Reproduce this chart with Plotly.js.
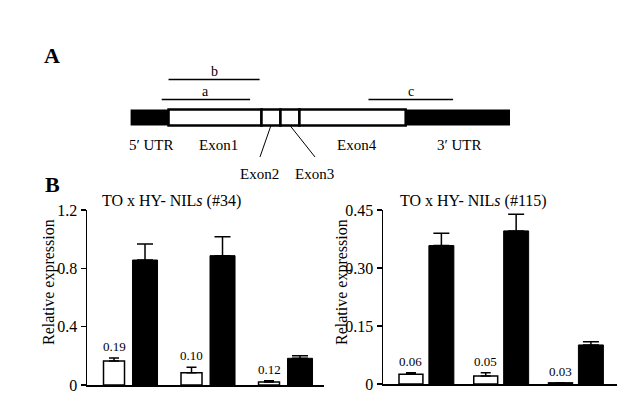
<!DOCTYPE html>
<html>
<head>
<meta charset="utf-8">
<script src="https://cdn.plot.ly/plotly-3.0.1.min.js"></script>
<style>html,body{margin:0;padding:0;background:#fff;}#chart{width:640px;height:393px;}</style>
</head>
<body>
<div id="chart"></div>
<script>
// ---------- Panel A: gene structure (diagram units, 0..1000 along the transcript) ----------
const regionNames  = ['5′ UTR', 'Exon1', 'Exon2', 'Exon3', 'Exon4', '3′ UTR'];
const regionStart  = [0, 100, 345, 395, 445, 725];
const regionEnd    = [100, 345, 395, 445, 725, 1000];
const regionCoding = [false, true, true, true, true, false];
const fragmentNames = ['a', 'b', 'c'];
const fragmentStart = [82, 100, 627];
const fragmentEnd   = [315, 340, 850];
const fragmentRow   = [1, 2, 1];

// ---------- Panel B: relative expression ----------
const groups = [0, 1, 2];
const left34White     = [0.165, 0.084, 0.021];
const left34WhiteErr  = [0.020, 0.037, 0.009];
const left34Black     = [0.857, 0.887, 0.183];
const left34BlackErr  = [0.110, 0.130, 0.018];
const left34Labels    = ['0.19', '0.10', '0.12'];
const right115White    = [0.025, 0.021, 0.003];
const right115WhiteErr = [0.004, 0.008, 0.000];
const right115Black    = [0.358, 0.396, 0.101];
const right115BlackErr = [0.032, 0.043, 0.008];
const right115Labels   = ['0.06', '0.05', '0.03'];
const leftTicks   = [0, 0.4, 0.8, 1.2];
const leftTickText  = ['0', '0.4', '0.8', '1.2'];
const rightTicks  = [0, 0.15, 0.30, 0.45];
const rightTickText = ['0', '0.15', '0.30', '0.45'];

const FONT = 'Liberation Serif, Times New Roman, serif';
const W = 640, H = 393;

// bar geometry (axis units)
const L = {wW: 0.271, wOff: -0.348, bW: 0.323, bOff: 0.026};
const R = {wW: 0.320, wOff: -0.368, bW: 0.334, bOff: 0.032};

function barPair(xa, ya, white, wErr, black, bErr, g) {
  return [
    {type: 'bar', x: groups, y: white, xaxis: xa, yaxis: ya, width: g.wW, offset: g.wOff,
     marker: {color: '#ffffff', line: {color: '#000', width: 1.5}},
     error_y: {type: 'data', array: wErr, arrayminus: wErr.map(() => 0), symmetric: false,
               color: '#000', thickness: 1.5, width: 5},
     hoverinfo: 'skip', showlegend: false},
    {type: 'bar', x: groups, y: black, xaxis: xa, yaxis: ya, width: g.bW, offset: g.bOff,
     marker: {color: '#000000', line: {color: '#000', width: 1}},
     error_y: {type: 'data', array: bErr, arrayminus: bErr.map(() => 0), symmetric: false,
               color: '#000', thickness: 1.5, width: 8},
     hoverinfo: 'skip', showlegend: false}
  ];
}

const data = [
  ...barPair('x', 'y', left34White, left34WhiteErr, left34Black, left34BlackErr, L),
  ...barPair('x2', 'y2', right115White, right115WhiteErr, right115Black, right115BlackErr, R)
];

// ---------- shapes for panel A ----------
const shapes = [];
regionNames.forEach((n, i) => {
  shapes.push({type: 'rect', xref: 'x3', yref: 'y3', x0: regionStart[i], x1: regionEnd[i], y0: -0.5, y1: 0.5,
    fillcolor: regionCoding[i] ? '#ffffff' : '#000000',
    line: {color: '#000', width: regionCoding[i] ? 2.5 : 0}, layer: 'above'});
});
const rowY = r => -0.13 + 1.25 * r;
fragmentNames.forEach((n, i) => {
  shapes.push({type: 'line', xref: 'x3', yref: 'y3', x0: fragmentStart[i], x1: fragmentEnd[i],
    y0: rowY(fragmentRow[i]), y1: rowY(fragmentRow[i]), line: {color: '#000', width: 1.5}});
});

const annotations = [];
const ann = (o) => annotations.push(Object.assign({showarrow: false, xanchor: 'center', yanchor: 'middle',
  font: {family: FONT, size: 15, color: '#000000'}}, o));

fragmentNames.forEach((n, i) => {
  ann({xref: 'x3', yref: 'y3', x: (fragmentStart[i] + fragmentEnd[i]) / 2, y: rowY(fragmentRow[i]),
       yanchor: 'bottom', yshift: -1, text: n, font: {family: FONT, size: 14, color: '#000000'}});
});
// region labels: UTRs and big exons directly below, small exons with leader lines
const dropLabel = {2: 341, 3: 486};
const labelNudge = {0: 4, 1: 10, 4: 12, 5: 4};
regionNames.forEach((n, i) => {
  const mid = (regionStart[i] + regionEnd[i]) / 2;
  if (dropLabel[i] !== undefined) {
    shapes.push({type: 'line', xref: 'x3', yref: 'y3', x0: mid, x1: dropLabel[i], y0: -0.5, y1: -2.47,
      line: {color: '#000', width: 1}});
    ann({xref: 'x3', yref: 'y3', x: dropLabel[i], y: -3.55, text: n});
  } else {
    ann({xref: 'x3', yref: 'y3', x: mid + (labelNudge[i] || 0), y: -1.75, text: n});
  }
});

ann({xref: 'paper', yref: 'paper', x: 52 / W, y: 1 - 56 / H, text: '<b>A</b>', font: {family: FONT, size: 22, color: '#000000'}});
ann({xref: 'paper', yref: 'paper', x: 52 / W, y: 1 - 184 / H, text: '<b>B</b>', font: {family: FONT, size: 22, color: '#000000'}});
ann({xref: 'paper', yref: 'paper', x: 171 / W, y: 1 - 201 / H, text: 'TO x HY- NIL<i>s</i> (#34)', font: {family: FONT, size: 16, color: '#000000'}});
ann({xref: 'paper', yref: 'paper', x: 473 / W, y: 1 - 201 / H, text: 'TO x HY- NIL<i>s</i> (#115)', font: {family: FONT, size: 16, color: '#000000'}});
ann({xref: 'paper', yref: 'paper', x: 49 / W, y: 1 - 282 / H, text: 'Relative expression', textangle: -90, font: {family: FONT, size: 16, color: '#000000'}});
ann({xref: 'paper', yref: 'paper', x: 342 / W, y: 1 - 282 / H, text: 'Relative expression', textangle: -90, font: {family: FONT, size: 16, color: '#000000'}});

function valueLabels(xa, ya, white, err, labels, g) {
  groups.forEach((x, i) => {
    ann({xref: xa, yref: ya, x: x + g.wOff + g.wW / 2, y: white[i] + err[i], yanchor: 'bottom', yshift: 2,
         text: labels[i], font: {family: FONT, size: 13, color: '#000000'}});
  });
}
valueLabels('x', 'y', left34White, left34WhiteErr, left34Labels, L);
valueLabels('x2', 'y2', right115White, right115WhiteErr, right115Labels, R);

const xCommon = {showline: true, linecolor: '#000', linewidth: 1.5, ticks: '', showticklabels: false,
                 showgrid: false, zeroline: false, fixedrange: true};
const yCommon = {showline: true, linecolor: '#000', linewidth: 1.5, ticks: 'outside', ticklen: 5, tickwidth: 1.5,
                 tickcolor: '#000', showgrid: false, zeroline: false, fixedrange: true,
                 ticklabeloverflow: 'allow', ticklabelstandoff: 0,
                 tickfont: {family: FONT, size: 16, color: '#000'}};

const layout = {
  width: W, height: H,
  margin: {l: 0, r: 0, t: 0, b: 0, pad: 0},
  paper_bgcolor: '#ffffff', plot_bgcolor: 'rgba(0,0,0,0)',
  barmode: 'overlay', showlegend: false,
  xaxis:  Object.assign({}, xCommon, {domain: [87 / W, 324 / W], range: [-0.561, 2.497], anchor: 'y'}),
  yaxis:  Object.assign({}, yCommon, {domain: [8 / H, 183 / H], range: [0, 1.2], tickvals: leftTicks, ticktext: leftTickText, anchor: 'x'}),
  xaxis2: Object.assign({}, xCommon, {domain: [383 / W, 617 / W], range: [-0.582, 2.548], anchor: 'y2'}),
  yaxis2: Object.assign({}, yCommon, {domain: [9 / H, 183 / H], range: [0, 0.45], tickvals: rightTicks, ticktext: rightTickText, anchor: 'x2'}),
  xaxis3: {domain: [0, 1], range: [-344.2, 1342.6], visible: false, fixedrange: true, anchor: 'y3'},
  yaxis3: {domain: [0, 1], range: [-17.22, 7.34], visible: false, fixedrange: true, anchor: 'x3'},
  shapes: shapes,
  annotations: annotations,
  font: {family: FONT, color: '#000'}
};

Plotly.newPlot('chart', data, layout, {staticPlot: true, displayModeBar: false});
</script>
</body>
</html>
